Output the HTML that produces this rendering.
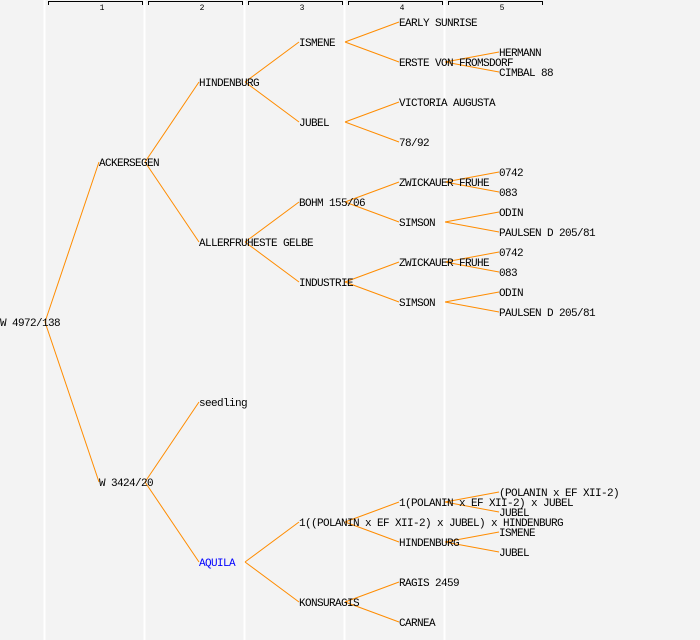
<!DOCTYPE html>
<html><head><style>
html,body{margin:0;padding:0;background:#f3f3f3;}
svg{display:block;}
text{font-family:"Liberation Mono","DejaVu Sans Mono",monospace;font-size:11px;letter-spacing:-0.6px;fill:#000;}
</style></head><body>
<svg width="700" height="640" xmlns="http://www.w3.org/2000/svg">
<rect width="700" height="640" fill="#f3f3f3"/>
<g stroke="#fff" stroke-width="2">
<line x1="44.5" y1="0" x2="44.5" y2="640"/><line x1="144.5" y1="0" x2="144.5" y2="640"/>
<line x1="244.5" y1="0" x2="244.5" y2="640"/><line x1="344.5" y1="0" x2="344.5" y2="640"/>
<line x1="444.5" y1="0" x2="444.5" y2="640"/>
</g>
<g stroke="#000" fill="none" stroke-width="1">
<path d="M48.5 5V1.5H142.5V5"/><path d="M148.5 5V1.5H242.5V5"/><path d="M248.5 5V1.5H342.5V5"/>
<path d="M348.5 5V1.5H442.5V5"/><path d="M448.5 5V1.5H542.5V5"/>
</g>
<g text-anchor="middle">
<text x="102" y="10" style="font-size:8px;letter-spacing:0">1</text><text x="202" y="10" style="font-size:8px;letter-spacing:0">2</text>
<text x="302" y="10" style="font-size:8px;letter-spacing:0">3</text><text x="402" y="10" style="font-size:8px;letter-spacing:0">4</text>
<text x="502" y="10" style="font-size:8px;letter-spacing:0">5</text>
</g>
<g stroke="#ff8c00" stroke-width="1" fill="none">
<path d="M45 322L99 162M45 322L99 482"/>
<path d="M145 162L199 82M145 162L199 242M145 482L199 402M145 482L199 562"/>
<path d="M245 82L299 42M245 82L299 122M245 242L299 202M245 242L299 282M245 562L299 522M245 562L299 602"/>
<path d="M345 42L399 22M345 42L399 62M345 122L399 102M345 122L399 142M345 202L399 182M345 202L399 222M345 282L399 262M345 282L399 302M345 522L399 502M345 522L399 542M345 602L399 582M345 602L399 622"/>
<path d="M445 62L499 52M445 62L499 72M445 182L499 172M445 182L499 192M445 222L499 212M445 222L499 232M445 262L499 252M445 262L499 272M445 302L499 292M445 302L499 312M445 502L499 492M445 502L499 512M445 542L499 532M445 542L499 552"/>
</g>
<g>
<text x="0" y="326">W 4972/138</text>
<text x="99" y="166">ACKERSEGEN</text><text x="99" y="486">W 3424/20</text>
<text x="199" y="86">HINDENBURG</text><text x="199" y="246">ALLERFRUHESTE GELBE</text>
<text x="199" y="406">seedling</text><text x="199" y="566" style="fill:#0000ff">AQUILA</text>
<text x="299" y="46">ISMENE</text><text x="299" y="126">JUBEL</text><text x="299" y="206">BOHM 155/06</text>
<text x="299" y="286">INDUSTRIE</text><text x="299" y="526">1((POLANIN x EF XII-2) x JUBEL) x HINDENBURG</text>
<text x="299" y="606">KONSURAGIS</text>
<text x="399" y="26">EARLY SUNRISE</text><text x="399" y="66">ERSTE VON FROMSDORF</text>
<text x="399" y="106">VICTORIA AUGUSTA</text><text x="399" y="146">78/92</text>
<text x="399" y="186">ZWICKAUER FRUHE</text><text x="399" y="226">SIMSON</text>
<text x="399" y="266">ZWICKAUER FRUHE</text><text x="399" y="306">SIMSON</text>
<text x="399" y="506">1(POLANIN x EF XII-2) x JUBEL</text><text x="399" y="546">HINDENBURG</text>
<text x="399" y="586">RAGIS 2459</text><text x="399" y="626">CARNEA</text>
<text x="499" y="56">HERMANN</text><text x="499" y="76">CIMBAL 88</text>
<text x="499" y="176">0742</text><text x="499" y="196">083</text><text x="499" y="216">ODIN</text><text x="499" y="236">PAULSEN D 205/81</text>
<text x="499" y="256">0742</text><text x="499" y="276">083</text><text x="499" y="296">ODIN</text><text x="499" y="316">PAULSEN D 205/81</text>
<text x="499" y="496">(POLANIN x EF XII-2)</text><text x="499" y="516">JUBEL</text>
<text x="499" y="536">ISMENE</text><text x="499" y="556">JUBEL</text>
</g>
</svg>
</body></html>
